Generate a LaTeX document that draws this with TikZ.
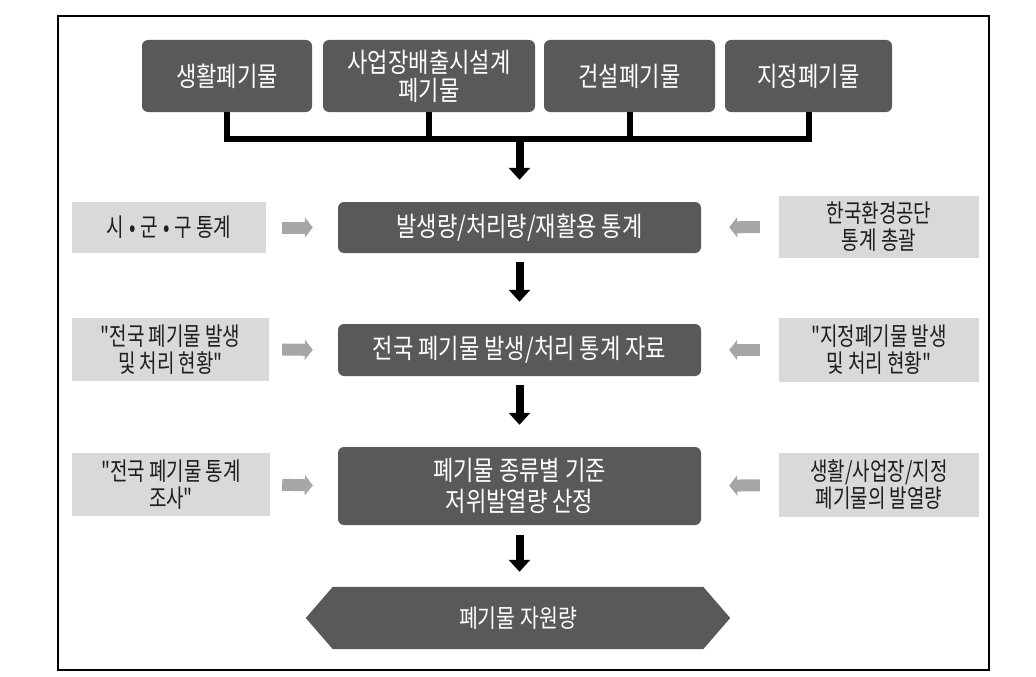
\documentclass[tikz,border=0pt]{standalone}
\usepackage{fontspec}
\setmainfont{Noto Sans CJK KR}
\newfontfamily\krdark[FakeStretch=0.82]{Noto Sans CJK KR}
\newfontfamily\krlight[FakeStretch=0.76]{Noto Sans CJK KR}
\usetikzlibrary{arrows.meta}
\pgfdeclarelayer{bg}
\pgfsetlayers{bg,main}
\definecolor{darkbox}{HTML}{595959}
\definecolor{lightbox}{HTML}{D9D9D9}
\definecolor{grayarrow}{HTML}{A6A6A6}
\definecolor{graytext}{HTML}{1E1E1E}
\tikzset{
  darknode/.style={fill=darkbox, rounded corners=6pt, text=white, align=center, inner sep=0pt,
    font=\krdark\fontsize{27}{28}\selectfont},
  lightnode/.style={fill=lightbox, text=graytext, align=center, inner sep=0pt,
    font=\krlight\fontsize{25}{27}\selectfont},
  hexnode/.style={text=white, align=center, inner sep=0pt, font=\krdark\fontsize{25}{28}\selectfont},
  bracketline/.style={line width=6pt, black},
  blackarrow/.style={line width=8pt, black, -{Triangle[width=21pt,length=12pt]}},
  grayblock/.style={line width=12pt, grayarrow, -{Triangle[width=20pt,length=8pt]}},
}
\begin{document}
\begin{tikzpicture}[x=1pt,y=-1pt]
\useasboundingbox (0,0) rectangle (1036,677);
\draw[line width=1.5pt] (58,16) rectangle (989,670);

% top boxes
\node[darknode, minimum width=170pt, minimum height=72pt] (b1) at (227,76) {생활폐기물};
\node[darknode, minimum width=212pt, minimum height=72pt] (b2) at (429,76) {사업장배출시설계\\폐기물};
\node[darknode, minimum width=171pt, minimum height=72pt] (b3) at (629.5,76) {건설폐기물};
\node[darknode, minimum width=167pt, minimum height=72pt] (b4) at (808.5,76) {지정폐기물};

\coordinate (join) at (519.5,139);
\draw[bracketline] (b1.south) |- (b4.south |- join) -- (b4.south);
\draw[bracketline] (b2.south) -- (b2.south |- join);
\draw[bracketline] (b3.south) -- (b3.south |- join);

% row 1
\node[darknode, minimum width=363pt, minimum height=51pt] (stat) at (519.5,227.5) {발생량/처리량/재활용 통계};
\node[lightnode, minimum width=194pt, minimum height=51pt] (l1) at (169,227.5) {시\hspace{5pt}•\hspace{5pt}군\hspace{5pt}•\hspace{5pt}구 통계};
\node[lightnode, minimum width=200pt, minimum height=62pt] (r1) at (879,227) {한국환경공단\\통계 총괄};

% row 2
\node[darknode, minimum width=363pt, minimum height=52pt] (nat) at (519.5,350) {전국 폐기물 발생/처리 통계 자료};
\node[lightnode, minimum width=197pt, minimum height=63pt] (l2) at (170.5,349.5) {"전국 폐기물 발생\\및 처리 현황"};
\node[lightnode, minimum width=200pt, minimum height=64pt] (r2) at (879,350) {"지정폐기물 발생\\및 처리 현황"};

% row 3
\node[darknode, minimum width=363pt, minimum height=78pt, font=\krdark\fontsize{27}{31}\selectfont] (calc) at (519.5,486) {폐기물 종류별 기준\\저위발열량 산정};
\node[lightnode, minimum width=198pt, minimum height=63pt] (l3) at (171,484.5) {"전국 폐기물 통계\\조사"};
\node[lightnode, minimum width=200pt, minimum height=64pt] (r3) at (879,485) {생활/사업장/지정\\폐기물의 발열량};

% result hexagon
\node[hexnode, minimum width=424pt, minimum height=62pt] (res) at (518,618) {폐기물 자원량};
\begin{pgfonlayer}{bg}
\fill[darkbox] (res.west) -- ([xshift=27pt]res.north west) -- ([xshift=-27pt]res.north east)
  -- (res.east) -- ([xshift=-27pt]res.south east) -- ([xshift=27pt]res.south west) -- cycle;
\end{pgfonlayer}

% black arrows
\draw[blackarrow, shorten >=22pt] (join) -- (stat.north);
\draw[blackarrow, shorten <=9pt, shorten >=22pt] (stat.south) -- (nat.north);
\draw[blackarrow, shorten <=9pt, shorten >=22pt] (nat.south) -- (calc.north);
\draw[blackarrow, shorten <=10pt, shorten >=15pt] (calc.south) -- (calc.south |- res.north);

% gray arrows
\draw[grayblock, shorten <=16pt, shorten >=25pt] (l1.east) -- (stat.west);
\draw[grayblock, shorten <=19pt, shorten >=28pt] (r1.west) -- (stat.east);
\draw[grayblock, shorten <=13pt, shorten >=25pt] (l2.east) -- (nat.west);
\draw[grayblock, shorten <=19pt, shorten >=28pt] (r2.west) -- (nat.east);
\draw[grayblock, shorten <=12pt, shorten >=25pt] (l3.east) -- (calc.west);
\draw[grayblock, shorten <=19pt, shorten >=28pt] (r3.west) -- (calc.east);
\end{tikzpicture}
\end{document}
